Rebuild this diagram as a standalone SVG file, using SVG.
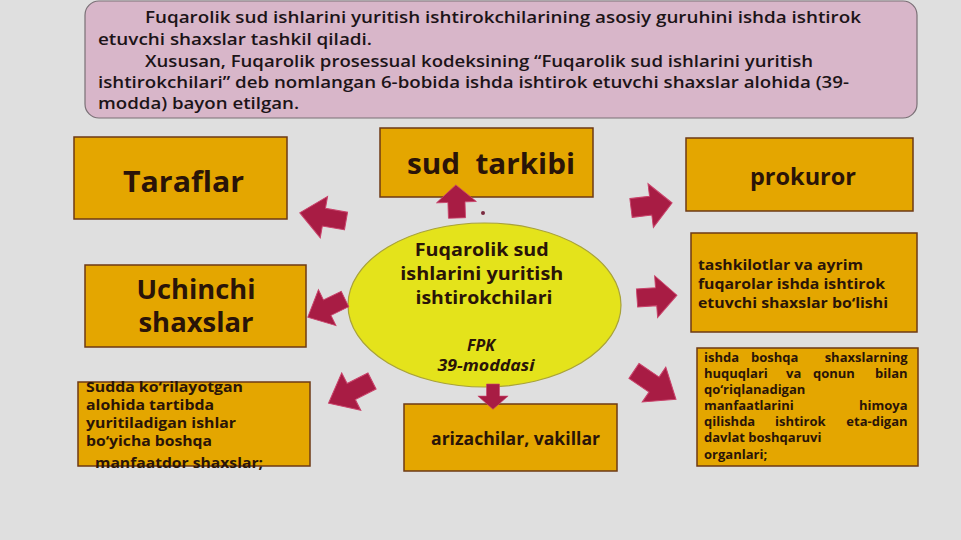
<svg xmlns="http://www.w3.org/2000/svg" xmlns:xlink="http://www.w3.org/1999/xlink" width="961" height="540" viewBox="0 0 961 540">
<style>
.bg{fill:#dfdfdf}
.box{fill:#e4a600;stroke:#6e3a14;stroke-width:1.5}
.t{font-family:"Open Sans","Noto Sans","DejaVu Sans",sans-serif;font-weight:700;fill:#2a1408}
.top{font-family:"Open Sans","Noto Sans","DejaVu Sans",sans-serif;font-weight:600;font-size:16px;fill:#1c1418}
.arr{fill:#a81c44;stroke:#c9426a;stroke-width:1}
</style>
<defs>
<path id="arr" d="M0,-9 L22,-9 L22,-21 L46,0 L22,21 L22,9 L0,9 Z"/>
</defs>
<rect class="bg" x="0" y="0" width="961" height="540"/>

<g id="intro">
<rect x="85" y="1" width="832" height="117" rx="14" fill="#d8b6c9" stroke="#7a7076" stroke-width="1.2"/>
<text class="top" x="145" y="23" textLength="716" lengthAdjust="spacingAndGlyphs">Fuqarolik sud ishlarini yuritish ishtirokchilarining asosiy guruhini ishda ishtirok</text>
<text class="top" x="98" y="45" textLength="274" lengthAdjust="spacingAndGlyphs">etuvchi shaxslar tashkil qiladi.</text>
<text class="top" x="145" y="67" textLength="668" lengthAdjust="spacingAndGlyphs">Xususan, Fuqarolik prosessual kodeksining “Fuqarolik sud ishlarini yuritish</text>
<text class="top" x="98" y="88" textLength="751" lengthAdjust="spacingAndGlyphs">ishtirokchilari” deb nomlangan 6-bobida ishda ishtirok etuvchi shaxslar alohida (39-</text>
<text class="top" x="98" y="109" textLength="201" lengthAdjust="spacingAndGlyphs">modda) bayon etilgan.</text>
</g>

<g id="taraflar">
<rect class="box" x="74" y="137" width="213" height="82"/>
<text class="t" x="123" y="192" font-size="29" textLength="121" lengthAdjust="spacingAndGlyphs">Taraflar</text>
</g>

<g id="sud-tarkibi">
<rect class="box" x="380" y="128" width="213" height="69"/>
<text class="t" x="407" y="174" font-size="28" textLength="168" lengthAdjust="spacingAndGlyphs" xml:space="preserve">sud  tarkibi</text>
</g>

<g id="prokuror">
<rect class="box" x="686" y="138" width="227" height="73"/>
<text class="t" x="750" y="185" font-size="23" textLength="106" lengthAdjust="spacingAndGlyphs">prokuror</text>
</g>

<g id="tashkilotlar">
<rect class="box" x="691" y="233" width="226" height="99"/>
<text class="t" font-size="14.5">
<tspan x="698" y="270" textLength="165" lengthAdjust="spacingAndGlyphs">tashkilotlar va ayrim</tspan>
<tspan x="698" y="289" textLength="187" lengthAdjust="spacingAndGlyphs">fuqarolar ishda ishtirok</tspan>
<tspan x="698" y="308" textLength="190" lengthAdjust="spacingAndGlyphs">etuvchi shaxslar bo‘lishi</tspan>
</text>
</g>

<g id="uchinchi">
<rect class="box" x="85" y="265" width="221" height="82"/>
<text class="t" x="196" y="299" font-size="26" text-anchor="middle" textLength="119" lengthAdjust="spacingAndGlyphs">Uchinchi</text>
<text class="t" x="196" y="332" font-size="26" text-anchor="middle" textLength="115" lengthAdjust="spacingAndGlyphs">shaxslar</text>
</g>

<g id="markaz">
<ellipse cx="484.5" cy="305" rx="136.5" ry="82" fill="#e4e31b" stroke="#a8a23a" stroke-width="1.2"/>
<text class="t" font-size="17" text-anchor="middle">
<tspan x="484" y="256" textLength="134" lengthAdjust="spacingAndGlyphs">Fuqarolik sud</tspan>
<tspan x="484" y="280" textLength="163" lengthAdjust="spacingAndGlyphs">ishlarini yuritish</tspan>
<tspan x="484" y="304" textLength="137" lengthAdjust="spacingAndGlyphs">ishtirokchilari</tspan>
</text>
<text class="t" font-size="16" font-style="italic" text-anchor="middle">
<tspan x="483" y="351">FPK</tspan>
<tspan x="486" y="371" textLength="97" lengthAdjust="spacingAndGlyphs">39-moddasi</tspan>
</text>
</g>

<g id="sudda">
<rect class="box" x="78" y="382" width="232" height="84"/>
<text class="t" font-size="14.5">
<tspan x="86" y="392" textLength="157" lengthAdjust="spacingAndGlyphs">Sudda ko‘rilayotgan</tspan>
<tspan x="86" y="410" textLength="128" lengthAdjust="spacingAndGlyphs">alohida tartibda</tspan>
<tspan x="86" y="428" textLength="150" lengthAdjust="spacingAndGlyphs">yuritiladigan ishlar</tspan>
<tspan x="86" y="446" textLength="126" lengthAdjust="spacingAndGlyphs">bo‘yicha boshqa</tspan>
<tspan x="95" y="468" textLength="168" lengthAdjust="spacingAndGlyphs">manfaatdor shaxslar;</tspan>
</text>
</g>

<g id="arizachilar">
<rect class="box" x="404" y="404" width="213" height="67"/>
<text class="t" x="431" y="445" font-size="17" textLength="169" lengthAdjust="spacingAndGlyphs">arizachilar, vakillar</text>
</g>

<g id="ishda">
<rect class="box" x="697" y="348" width="221" height="118"/>
<text class="t" font-size="13">
<tspan x="704" y="362">ishda</tspan><tspan x="751" y="362">boshqa</tspan><tspan x="911" y="362" text-anchor="end">shaxslarning</tspan>
<tspan x="704" y="378">huquqlari</tspan><tspan x="786" y="378">va</tspan><tspan x="813" y="378">qonun</tspan><tspan x="911" y="378" text-anchor="end">bilan</tspan>
<tspan x="704" y="394">qo‘riqlanadigan</tspan>
<tspan x="704" y="410">manfaatlarini</tspan><tspan x="911" y="410" text-anchor="end">himoya</tspan>
<tspan x="704" y="426">qilishda</tspan><tspan x="775" y="426">ishtirok</tspan><tspan x="911" y="426" text-anchor="end">eta-digan</tspan>
<tspan x="704" y="442">davlat boshqaruvi</tspan>
<tspan x="704" y="459">organlari;</tspan>
</text>
</g>

<g id="connectors">
<use class="arr" xlink:href="#arr" href="#arr" transform="translate(346,221) rotate(190) scale(1.02,1)"/>
<use class="arr" xlink:href="#arr" href="#arr" transform="translate(345,299) rotate(154) scale(0.9,0.95)"/>
<use class="arr" xlink:href="#arr" href="#arr" transform="translate(457,218) rotate(-92) scale(0.72,0.95)"/>
<use class="arr" xlink:href="#arr" href="#arr" transform="translate(631,208) rotate(-7) scale(0.9,1.05)"/>
<use class="arr" xlink:href="#arr" href="#arr" transform="translate(637,298) rotate(-4) scale(0.87,1)"/>
<use class="arr" xlink:href="#arr" href="#arr" transform="translate(372,381) rotate(153) scale(1.06,1)"/>
<use class="arr" xlink:href="#arr" href="#arr" transform="translate(634,371) rotate(34) scale(1.1,1)"/>
<use class="arr" xlink:href="#arr" href="#arr" transform="translate(493,384) rotate(90) scale(0.55,0.72)"/>
<circle cx="483" cy="213" r="2" fill="#7a2a40"/>
</g>
</svg>
